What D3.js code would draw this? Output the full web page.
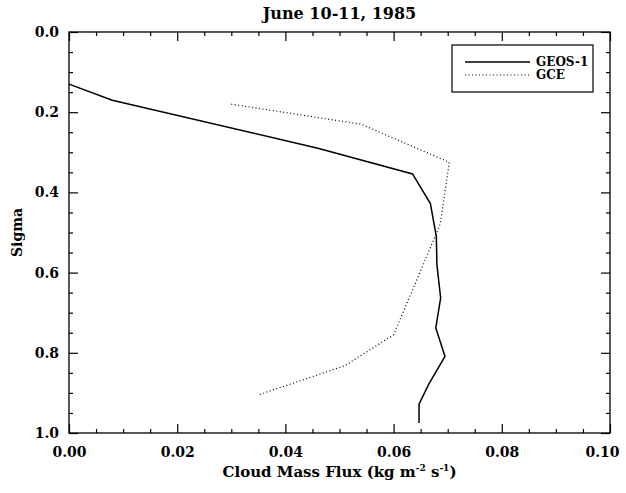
<!DOCTYPE html>
<html>
<head>
<meta charset="utf-8">
<script src="https://cdn.jsdelivr.net/npm/d3@7"></script>
<style>
	body { margin: 0; padding: 0; background: #fff; }
	svg text { font-family: 'DejaVu Serif', serif; font-weight: bold; fill: #000; }
	.tick line { stroke: #000; stroke-width: 1.2; }
	.domain { display: none; }
</style>
</head>
<body>
<div id="chart"></div>
<script>
'use strict';

// GEOS-1 profile (solid)
var geosFlux = [0.000, 0.008, 0.046, 0.0635, 0.0668, 0.0679, 0.0680, 0.0687, 0.0678, 0.0695, 0.0665, 0.0647, 0.0647];
var geosSigma = [0.13, 0.17, 0.290, 0.354, 0.428, 0.510, 0.580, 0.663, 0.738, 0.809, 0.878, 0.928, 0.975];

// GCE profile (dotted)
var gceFlux = [0.030, 0.054, 0.0703, 0.0686, 0.0600, 0.0510, 0.0350];
var gceSigma = [0.18, 0.230, 0.325, 0.480, 0.755, 0.832, 0.905];

var xMajor = [0.00, 0.02, 0.04, 0.06, 0.08, 0.10];
var yMajor = [0.0, 0.2, 0.4, 0.6, 0.8, 1.0];
var xMinorStep = 0.005;
var yMinorStep = 0.05;

var seriesNames = ['GEOS-1', 'GCE'];

var W = 626, H = 493;
var margin = { top: 32, right: 16, bottom: 60, left: 69 };
var pw = W - margin.left - margin.right,
		ph = H - margin.top - margin.bottom;

function zip (xs, ys)	{
	return xs.map(function (x, i) { return { x: x, y: ys[i] }; });
}

function minorTicks (major, step)	{
	var lo = major[0], hi = major[major.length - 1];
	return d3.range(lo, hi + step / 2, step).filter(function (v)	{
		return major.every(function (m) { return Math.abs(m - v) > 1e-9; });
	});
}

var svg = d3.select('#chart').append('svg')
						.attr('width', W)
						.attr('height', H);

var g = svg.append('g')
					 .attr('transform', 'translate(' + margin.left + ',' + margin.top + ')');

var x = d3.scaleLinear().domain([0, 0.1]).range([0, pw]);
var y = d3.scaleLinear().domain([0, 1]).range([0, ph]);

function addAxis (axisFn, scale, values, size, fmt, tx, ty)	{
	var ax = axisFn(scale).tickValues(values).tickSize(size).tickSizeOuter(0)
				.tickFormat(fmt);
	return g.append('g')
					.attr('transform', 'translate(' + tx + ',' + ty + ')')
					.call(ax);
}

var noLabel = function () { return ''; };
var xMinor = minorTicks(xMajor, xMinorStep),
		yMinor = minorTicks(yMajor, yMinorStep);

// bottom
var xb = addAxis(d3.axisBottom, x, xMajor, -9, d3.format('.2f'), 0, ph);
xb.selectAll('text')
	.attr('y', 14)
	.attr('dx', function (d, i) { return i === xMajor.length - 1 ? -8 : 0; })
	.style('font-size', '14px');
addAxis(d3.axisBottom, x, xMinor, -4, noLabel, 0, ph);
// top
addAxis(d3.axisTop, x, xMajor, -9, noLabel, 0, 0);
addAxis(d3.axisTop, x, xMinor, -4, noLabel, 0, 0);
// left
var yl = addAxis(d3.axisLeft, y, yMajor, -9, d3.format('.1f'), 0, 0);
yl.selectAll('text').attr('x', -10).style('font-size', '14px');
addAxis(d3.axisLeft, y, yMinor, -4, noLabel, 0, 0);
// right
addAxis(d3.axisRight, y, yMajor, -9, noLabel, pw, 0);
addAxis(d3.axisRight, y, yMinor, -4, noLabel, pw, 0);

g.append('rect')
 .attr('width', pw)
 .attr('height', ph)
 .attr('fill', 'none')
 .attr('stroke', '#000')
 .attr('stroke-width', 1.3);

var line = d3.line()
	.x(function (d) { return x(d.x); })
	.y(function (d) { return y(d.y); });

g.append('path')
 .datum(zip(geosFlux, geosSigma))
 .attr('d', line)
 .attr('fill', 'none')
 .attr('stroke', '#000')
 .attr('stroke-width', 1.5);

g.append('path')
 .datum(zip(gceFlux, gceSigma))
 .attr('d', line)
 .attr('fill', 'none')
 .attr('stroke', '#000')
 .attr('stroke-width', 1.2)
 .attr('stroke-dasharray', '1,2.5');

// legend
var lg = g.append('g').attr('transform', 'translate(383,13)');
lg.append('rect')
	.attr('width', 141)
	.attr('height', 47)
	.attr('fill', '#fff')
	.attr('stroke', '#000')
	.attr('stroke-width', 1.2);

seriesNames.forEach(function (name, i)	{
	var ly = 17 + i * 13;
	lg.append('line')
		.attr('x1', 13).attr('x2', 78)
		.attr('y1', ly).attr('y2', ly)
		.attr('stroke', '#000')
		.attr('stroke-width', i === 0 ? 1.5 : 1.2)
		.attr('stroke-dasharray', i === 0 ? null : '1,2.5');
	lg.append('text')
		.attr('x', 84)
		.attr('y', ly + 4)
		.style('font-size', '12px')
		.text(name);
});

// titles
svg.append('text')
	 .attr('x', margin.left + pw / 2)
	 .attr('y', 19)
	 .attr('text-anchor', 'middle')
	 .style('font-size', '16px')
	 .text('June 10-11, 1985');

var xl = svg.append('text')
	 .attr('x', margin.left + pw / 2)
	 .attr('y', H - 16)
	 .attr('text-anchor', 'middle')
	 .style('font-size', '15px');
xl.append('tspan').text('Cloud Mass Flux (kg m');
xl.append('tspan').attr('dy', -6).style('font-size', '9px').text('-2');
xl.append('tspan').attr('dy', 6).text(' s');
xl.append('tspan').attr('dy', -6).style('font-size', '9px').text('-1');
xl.append('tspan').attr('dy', 6).text(')');

svg.append('text')
	 .attr('transform', 'translate(' + 22 + ',' + (margin.top + ph / 2) + ') rotate(-90)')
	 .attr('text-anchor', 'middle')
	 .style('font-size', '14px')
	 .text('Sigma');
</script>
</body>
</html>
